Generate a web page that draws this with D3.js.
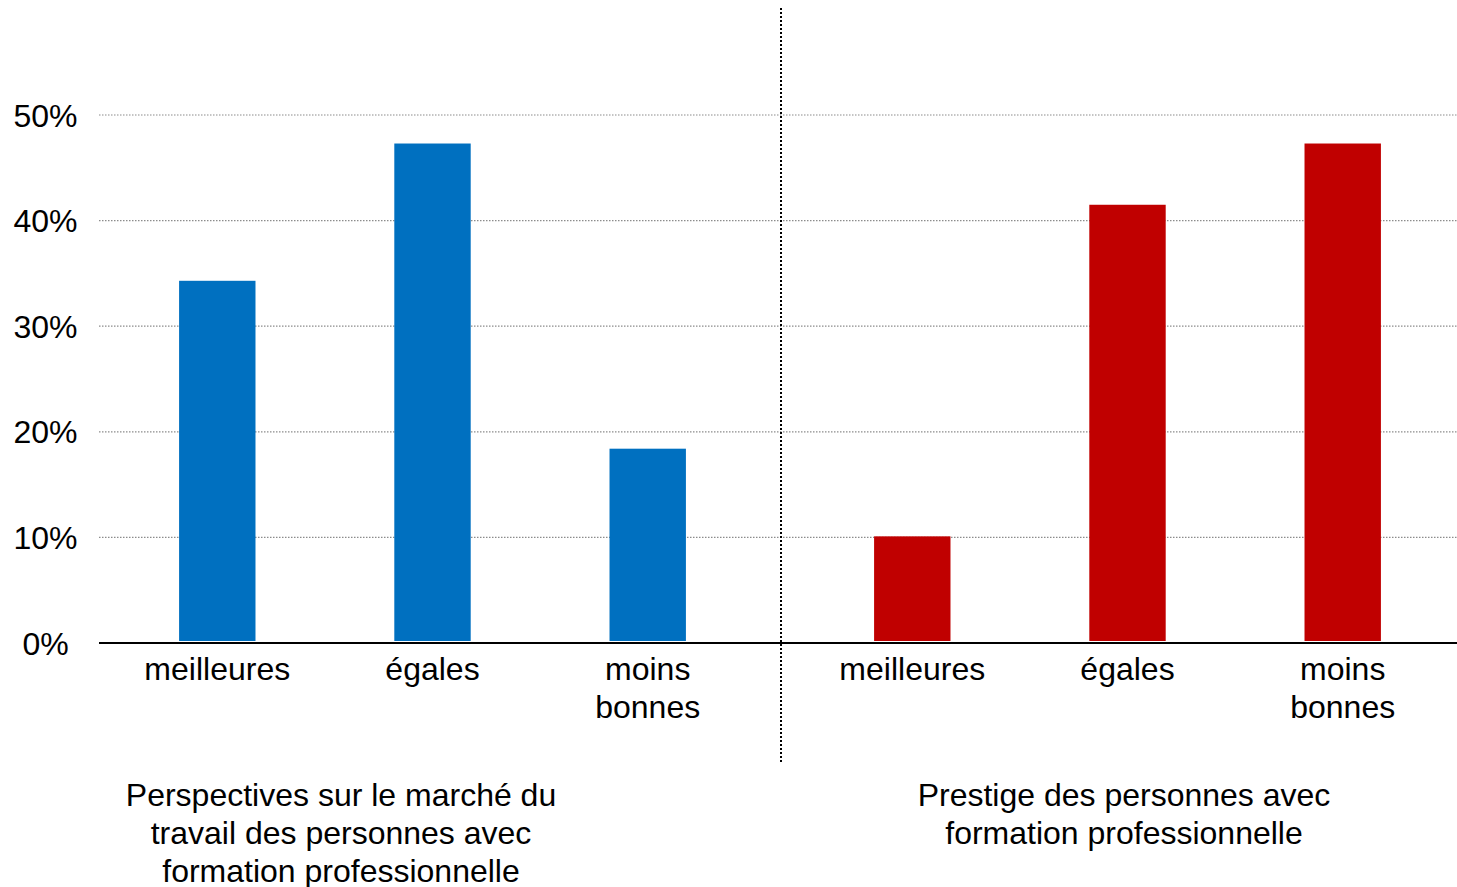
<!DOCTYPE html>
<html>
<head>
<meta charset="utf-8">
<script src="https://cdn.jsdelivr.net/npm/d3@7"></script>
<style>
  body { margin: 0; background: #fff; }
  text { font-family: "Liberation Sans", Arial, sans-serif; fill: #000; }
</style>
</head>
<body>
<svg id="chart" width="1457" height="887"></svg>
<script>
// data
var groups = ['marche', 'prestige'];
var groupTitles = [
  ['Perspectives sur le marché du', 'travail des personnes avec', 'formation professionnelle'],
  ['Prestige des personnes avec', 'formation professionnelle']
];
var categories = ['meilleures', 'égales', 'moins bonnes'];
var categoryLabels = [['meilleures'], ['égales'], ['moins', 'bonnes']];
var marcheValues = [0.343, 0.473, 0.184];
var prestigeValues = [0.101, 0.415, 0.473];
var groupColors = ['#0070C0', '#C00000'];
var yTicks = [0, 0.1, 0.2, 0.3, 0.4, 0.5];

var svg = d3.select('#chart');
var plotLeft = 99, plotRight = 1457, plotTop = 115, zeroY = 643;
var fontSize = '32px';

var y = d3.scaleLinear().domain([0, 0.5]).range([zeroY, plotTop]);

var x0 = d3.scaleBand().domain(groups).range([plotLeft, plotLeft + 2 * 679]).padding(0);
var x1 = d3.scaleBand().domain(categories).range([0, x0.bandwidth()])
  .paddingInner(0.645).paddingOuter(0.4);

// gridlines
svg.append('g')
  .selectAll('line')
  .data(yTicks.filter(function(d) { return d > 0; }))
  .join('line')
  .attr('x1', plotLeft).attr('x2', plotRight)
  .attr('y1', function(d) { return y(d); })
  .attr('y2', function(d) { return y(d); })
  .attr('stroke', '#8c8c8c')
  .attr('stroke-width', 1.2)
  .attr('stroke-dasharray', '1.5,1.5');

// y tick labels (centred like the original)
svg.append('g')
  .selectAll('text')
  .data(yTicks)
  .join('text')
  .attr('x', 45.5)
  .attr('y', function(d) { return y(d); })
  .attr('dy', '0.36em')
  .attr('text-anchor', 'middle')
  .style('font-size', fontSize)
  .text(function(d) { return d3.format('.0%')(d); });

// bars
var allValues = [marcheValues, prestigeValues];
groups.forEach(function(g, gi) {
  var gEl = svg.append('g').attr('transform', 'translate(' + x0(g) + ',0)');
  var offset = gi === 0 ? -6 : 10;
  gEl.selectAll('rect')
    .data(allValues[gi])
    .join('rect')
    .attr('x', function(d, i) { return x1(categories[i]) + offset; })
    .attr('width', x1.bandwidth())
    .attr('y', function(d) { return y(d); })
    .attr('height', function(d) { return zeroY - 2 - y(d); })
    .attr('fill', groupColors[gi]);

  // category labels
  gEl.selectAll('text.cat')
    .data(categoryLabels)
    .join('text')
    .attr('class', 'cat')
    .attr('text-anchor', 'middle')
    .attr('x', function(d, i) { return x1(categories[i]) + offset + x1.bandwidth() / 2; })
    .attr('y', 680)
    .style('font-size', fontSize)
    .each(function(lines) {
      var t = d3.select(this);
      lines.forEach(function(l, li) {
        t.append('tspan')
          .attr('x', t.attr('x'))
          .attr('dy', li === 0 ? 0 : 38)
          .text(l);
      });
    });
});

// zero axis
svg.append('line')
  .attr('x1', plotLeft).attr('x2', plotRight)
  .attr('y1', zeroY).attr('y2', zeroY)
  .attr('stroke', '#000').attr('stroke-width', 2);

// divider between groups
var divX = x0('prestige') + 3;
svg.append('line')
  .attr('x1', divX).attr('x2', divX)
  .attr('y1', 8).attr('y2', 763)
  .attr('stroke', '#000').attr('stroke-width', 2)
  .attr('stroke-dasharray', '2,2');

// group titles
var titleX = [341, 1124];
svg.append('g')
  .selectAll('text')
  .data(groupTitles)
  .join('text')
  .attr('text-anchor', 'middle')
  .attr('x', function(d, i) { return titleX[i]; })
  .attr('y', 806)
  .style('font-size', fontSize)
  .each(function(lines, i) {
    var t = d3.select(this);
    lines.forEach(function(l, li) {
      t.append('tspan')
        .attr('x', titleX[i])
        .attr('dy', li === 0 ? 0 : 38)
        .text(l);
    });
  });
</script>
</body>
</html>
